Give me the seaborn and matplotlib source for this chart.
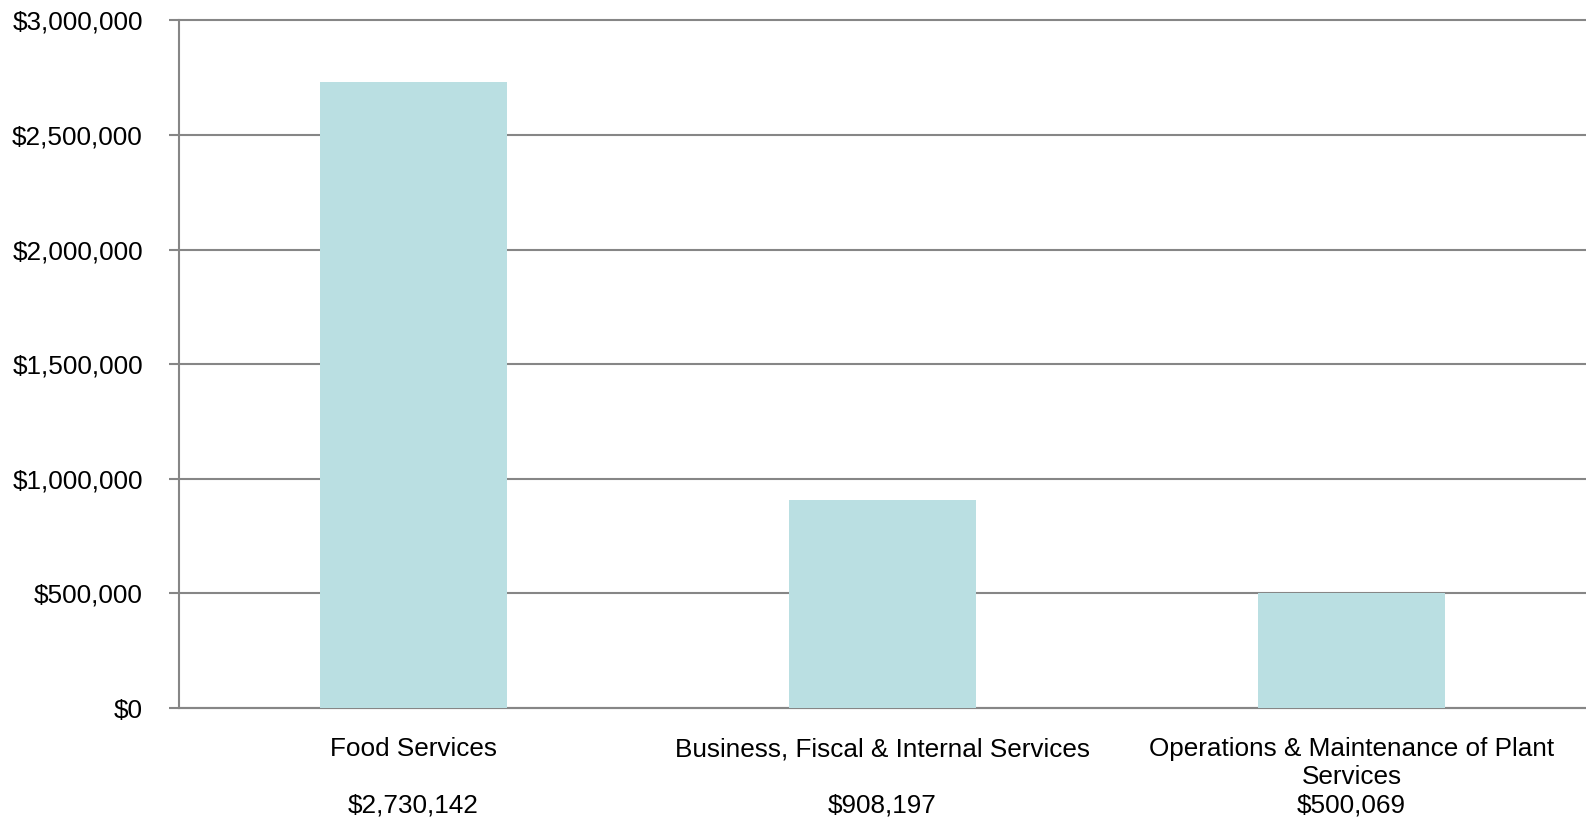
import pandas as pd
import matplotlib as mpl
import matplotlib.pyplot as plt
import seaborn as sns
from matplotlib.ticker import FuncFormatter, FixedLocator

categories = ["Food Services", "Business, Fiscal & Internal Services",
              "Operations & Maintenance of Plant Services"]
tick_labels = ["Food Services\n\n$2,730,142",
               "Business, Fiscal & Internal Services\n\n$908,197",
               "Operations & Maintenance of Plant\nServices\n$500,069"]
values = [2730142, 908197, 500069]

sns.set_style("white")
mpl.rcParams["font.family"] = ["Liberation Sans", "DejaVu Sans"]
mpl.rcParams["font.size"] = 18.8

data = pd.DataFrame({"cat": categories, "val": values})

fig = plt.figure(figsize=(15.86, 8.18), dpi=100)
ax = fig.add_axes([179 / 1586, 1 - 708 / 818, 1 - 179 / 1586, (708 - 20.5) / 818])

sns.barplot(data=data, x="cat", y="val", color="#BADFE2", saturation=1,
            width=0.4, linewidth=0, edgecolor="none", ax=ax, zorder=3)

grid_c = "#868686"
ax.set_ylim(0, 3000000)
ax.set_xlim(-0.5, 2.5)
ax.set_yticks(range(0, 3000001, 500000))
ax.yaxis.set_major_formatter(FuncFormatter(lambda v, p: "${:,.0f}".format(v)))
ax.yaxis.grid(True, color=grid_c, lw=1.5, zorder=0)
ax.set_axisbelow(True)
for gl in ax.get_ygridlines():
    gl.set_clip_on(False)

ax.set_xticks(range(3))
ax.set_xticklabels(tick_labels, linespacing=1.22)
ax.xaxis.set_minor_locator(FixedLocator([-0.5, 0.5, 1.5, 2.5]))
ax.tick_params(axis="x", which="major", length=0, pad=21, colors="black")
ax.tick_params(axis="x", which="minor", length=7, width=1.5, color=grid_c, direction="out")
ax.tick_params(axis="y", length=7, width=1.5, color=grid_c, pad=19, direction="out",
               left=True, labelcolor="black")

for s in ["top", "right"]:
    ax.spines[s].set_visible(False)
for s in ["left", "bottom"]:
    ax.spines[s].set_color(grid_c)
    ax.spines[s].set_linewidth(1.5)

ax.set_xlabel("")
ax.set_ylabel("")

plt.savefig("out.png", dpi=100)
plt.close()
